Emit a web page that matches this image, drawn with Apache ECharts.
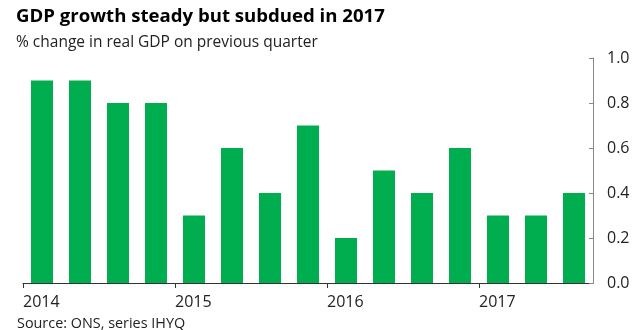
<!DOCTYPE html>
<html>
<head>
<meta charset="utf-8">
<script src="https://cdn.jsdelivr.net/npm/echarts@6/dist/echarts.min.js"></script>
<style>html,body{margin:0;padding:0;background:#fff}#c{width:640px;height:330px}</style>
</head>
<body>
<div id="c"></div>
<script>
const quarters = ['2014 Q1','2014 Q2','2014 Q3','2014 Q4','2015 Q1','2015 Q2','2015 Q3','2015 Q4','2016 Q1','2016 Q2','2016 Q3','2016 Q4','2017 Q1','2017 Q2','2017 Q3'];
const gdpGrowth = [0.9,0.9,0.8,0.8,0.3,0.6,0.4,0.7,0.2,0.5,0.4,0.6,0.3,0.3,0.4];
const yearLabels = ['2014','2015','2016','2017'];
const titleText = 'GDP growth steady but subdued in 2017';
const subtitleText = '% change in real GDP on previous quarter';
const sourceText = 'Source: ONS, series IHYQ';

// boundary positions: 16 points (start of each quarter + end)
const boundaries = [];
for (let i = 0; i <= quarters.length; i++) boundaries.push(i % 4 === 0 && i / 4 < yearLabels.length ? yearLabels[i / 4] : '');

const FONT = 'Open Sans';
const chart = echarts.init(document.getElementById('c'), null, {renderer: 'canvas'});
chart.setOption({
  animation: false,
  backgroundColor: '#ffffff',
  title: [
    {text: titleText, left: 11, top: 2, textStyle: {fontFamily: FONT, fontWeight: 'bold', fontSize: 18.6, color: '#000'}},
    {text: subtitleText, left: 11, top: 30, textStyle: {fontFamily: FONT, fontWeight: 'normal', fontSize: 15.5, color: '#222'}},
    {text: sourceText, left: 12, top: 312, textStyle: {fontFamily: FONT, fontWeight: 'normal', fontSize: 14.4, color: '#222'}}
  ],
  grid: {left: 23, right: 47, top: 58, bottom: 47, containLabel: false},
  xAxis: [
    {
      type: 'category', data: quarters, position: 'bottom', boundaryGap: true,
      axisLine: {show: true, lineStyle: {color: '#333', width: 1}},
      axisTick: {show: false}, axisLabel: {show: false}, splitLine: {show: false}
    },
    {
      type: 'category', data: boundaries, position: 'bottom', boundaryGap: false,
      axisLine: {show: false},
      axisTick: {show: true, length: 5, interval: (i, v) => v !== '', lineStyle: {color: '#333'}},
      axisLabel: {show: true, interval: (i, v) => v !== '', align: 'left', margin: 11,
        fontFamily: FONT, fontSize: 16, color: '#222'},
      splitLine: {show: false}
    }
  ],
  yAxis: {
    type: 'value', position: 'right', min: 0, max: 1, interval: 0.2,
    axisLine: {show: true, lineStyle: {color: '#888'}},
    axisTick: {show: true, inside: true, length: 4, lineStyle: {color: '#888'}},
    axisLabel: {formatter: v => v.toFixed(1), margin: 14, fontFamily: FONT, fontSize: 16, color: '#222'},
    splitLine: {show: false}
  },
  series: [{
    type: 'bar', data: gdpGrowth, xAxisIndex: 0, barWidth: 22,
    itemStyle: {color: '#00AD4F'}
  }]
});
</script>
</body>
</html>
